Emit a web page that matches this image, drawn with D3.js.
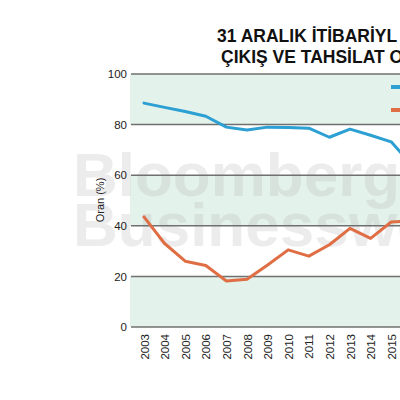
<!DOCTYPE html>
<html>
<head>
<meta charset="utf-8">
<script src="https://cdn.jsdelivr.net/npm/d3@7/dist/d3.min.js"></script>
<style>
  html, body { margin: 0; padding: 0; background: #fff; overflow: hidden; width: 400px; height: 400px; }
  svg { display: block; }
</style>
</head>
<body>
<script>
// ---- data ----
const years = ["2003","2004","2005","2006","2007","2008","2009","2010","2011","2012","2013","2014","2015","2016"];
const seriesBlue = [88.5, 86.8, 85.2, 83.3, 79.0, 77.9, 79.0, 78.9, 78.6, 75.0, 78.2, 75.8, 73.2, 64.0];
const seriesOrange = [43.5, 33.0, 26.0, 24.3, 18.2, 18.9, 24.5, 30.5, 28.0, 32.5, 39.0, 35.0, 41.5, 42.0];
const yTicks = [0, 20, 40, 60, 80, 100];
const xTickLabels = ["2003","2004","2005","2006","2007","2008","2009","2010","2011","2012","2013","2014","2015"];
const titleLines = ["31 ARALIK İTİBARİYL", "ÇIKIŞ VE TAHSİLAT O"];
const yLabel = "Oran (%)";
const watermark = ["Bloomberg", "Businessweek"];

const W = 520, H = 400;
const svg = d3.select("body").append("svg").attr("width", W).attr("height", H);

const plotLeft = 130, plotRight = 520;
const x = d3.scalePoint().domain(years).range([144, 144 + 20.6 * (years.length - 1)]);
const y = d3.scaleLinear().domain([0, 100]).range([327, 74]);

// alternating bands
const bands = [[0,20,true],[20,40,false],[40,60,true],[60,80,false],[80,100,true]];
svg.append("g").selectAll("rect").data(bands.filter(b => b[2])).join("rect")
  .attr("x", plotLeft).attr("width", plotRight - plotLeft)
  .attr("y", d => y(d[1])).attr("height", d => y(d[0]) - y(d[1]))
  .attr("fill", "#e3f2eb");

// watermark (behind grid and lines)
svg.append("g").selectAll("text").data(watermark).join("text")
  .attr("x", 73).attr("y", (d, i) => 196 + i * 50)
  .attr("font-family", "Liberation Sans, Arial, sans-serif").attr("font-weight", "bold")
  .attr("font-size", 62).attr("fill", "#bcbcbc").attr("opacity", 0.28).text(d => d);

// gridlines + y axis
const yAxis = d3.axisLeft(y).tickValues(yTicks).tickSize(0).tickPadding(3);
const gy = svg.append("g").attr("transform", `translate(${plotLeft},0)`).call(yAxis);
gy.select(".domain").remove();
gy.selectAll("text").attr("font-family", "Liberation Sans, Arial, sans-serif").attr("font-size", 11.5).attr("fill", "#222");
svg.append("g").selectAll("line").data(yTicks).join("line")
  .attr("x1", plotLeft + 1).attr("x2", plotRight)
  .attr("y1", d => y(d)).attr("y2", d => y(d))
  .attr("stroke", "#707070").attr("stroke-width", 1.5);

// x axis labels
const xAxis = d3.axisBottom(x).tickValues(xTickLabels).tickSize(0).tickPadding(0);
const gx = svg.append("g").attr("transform", `translate(0,${y(0)})`).call(xAxis);
gx.select(".domain").remove();
gx.selectAll("text")
  .attr("font-family", "Liberation Sans, Arial, sans-serif").attr("font-size", 11.5).attr("fill", "#222")
  .attr("text-anchor", "end")
  .attr("transform", "rotate(-90)")
  .attr("x", -7).attr("y", 0).attr("dy", "0.36em");

// y label
svg.append("text").attr("transform", "translate(104,200) rotate(-90)")
  .attr("text-anchor", "middle").attr("font-family", "Liberation Sans, Arial, sans-serif")
  .attr("font-size", 11).attr("fill", "#222").text(yLabel);

// lines
const line = d3.line().x((d, i) => x(years[i])).y(d => y(d));
svg.append("path").datum(seriesBlue).attr("d", line)
  .attr("fill", "none").attr("stroke", "#2c9fd3").attr("stroke-width", 3).attr("stroke-linejoin", "round").attr("stroke-linecap", "round");
svg.append("path").datum(seriesOrange).attr("d", line)
  .attr("fill", "none").attr("stroke", "#df6e45").attr("stroke-width", 3).attr("stroke-linejoin", "round").attr("stroke-linecap", "round");

// legend swatches
const legendColors = ["#2c9fd3", "#df6e45"];
svg.append("g").selectAll("line").data(legendColors).join("line")
  .attr("x1", 391).attr("x2", 412)
  .attr("y1", (d, i) => 87 + i * 23).attr("y2", (d, i) => 87 + i * 23)
  .attr("stroke", d => d).attr("stroke-width", 4);

// title
svg.append("g").selectAll("text").data(titleLines).join("text")
  .attr("x", (d, i) => i === 0 ? 217 : 221).attr("y", (d, i) => 42 + i * 21)
  .attr("font-family", "Liberation Sans, Arial, sans-serif").attr("font-weight", "bold")
  .attr("font-size", 17.5).attr("fill", "#111").text(d => d);
</script>
</body>
</html>
